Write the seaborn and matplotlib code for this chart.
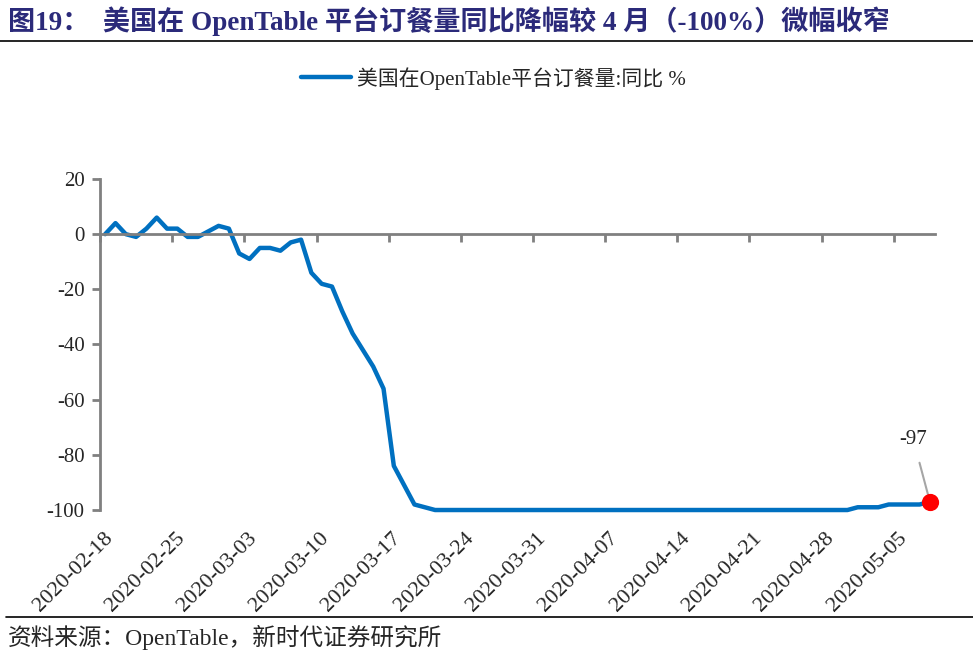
import pandas as pd
import matplotlib
matplotlib.use("Agg")
import matplotlib.pyplot as plt
import matplotlib.transforms as mtransforms
import seaborn as sns

# 美国在OpenTable平台订餐量:同比 %, daily from 2020-02-18 to 2020-05-08
start_date = "2020-02-18"
yoy = [
    0, 4, 0, -1, 2, 6, 2, 2, -1, -1,
    1, 3, 2, -7, -9, -5, -5, -6, -3, -2,
    -14, -18, -19, -28, -36, -42, -48, -56, -84, -91,
    -98, -99, -100, -100, -100, -100, -100, -100, -100, -100,
    -100, -100, -100, -100, -100, -100, -100, -100, -100, -100,
    -100, -100, -100, -100, -100, -100, -100, -100, -100, -100,
    -100, -100, -100, -100, -100, -100, -100, -100, -100, -100,
    -100, -100, -100, -99, -99, -99, -98, -98, -98, -98,
    -97,
]
tick_labels = ["2020-02-18", "2020-02-25", "2020-03-03", "2020-03-10",
               "2020-03-17", "2020-03-24", "2020-03-31", "2020-04-07",
               "2020-04-14", "2020-04-21", "2020-04-28", "2020-05-05"]
y_ticks = [20, 0, -20, -40, -60, -80, -100]

title = "图19：  美国在 OpenTable 平台订餐量同比降幅较 4 月（-100%）微幅收窄"
legend_label = "美国在OpenTable平台订餐量:同比 %"
source = "资料来源：OpenTable，新时代证券研究所"

df = pd.DataFrame({"date": pd.date_range(start_date, periods=len(yoy), freq="D"),
                   "value": yoy})

sns.set_theme(style="white")
serif = ["Liberation Serif", "Noto Sans CJK SC"]
plt.rcParams["font.family"] = serif

fig = plt.figure(figsize=(9.73, 6.58), dpi=100)
ax = fig.add_axes([0.1028, 0.2249, 0.8582, 0.5031])

blue = "#0070C0"
grey = "#808080"
sns.lineplot(data=df, x="date", y="value", ax=ax, color=blue, linewidth=3.2,
             label=legend_label, legend=False)
for ln in ax.get_lines():
    ln.set_clip_on(False)

# last point highlight
last = df.iloc[-1]
ax.scatter([last["date"]], [last["value"]], s=130, color="#FF0000", zorder=5,
           clip_on=False)
ax.annotate(f"{int(last['value'])}", xy=(last["date"], last["value"]),
            xytext=(-12, 45), textcoords="offset points", ha="center",
            va="center", fontsize=15, family=serif,
            arrowprops=dict(arrowstyle="-", color="#A6A6A6", lw=1.5,
                            shrinkA=8, shrinkB=0))

half = pd.Timedelta(hours=12)
ax.set_xlim(df["date"].iloc[0] - half, df["date"].iloc[-1] + half)
ax.set_ylim(-100, 20)
ax.set_yticks(y_ticks)
ax.set_yticklabels([str(v) for v in y_ticks], fontsize=15)

# x axis line at zero with tick marks between categories
tick_dates = pd.to_datetime(tick_labels)
ax.spines["bottom"].set_position(("data", 0))
ax.set_xticks(tick_dates - half)
ax.set_xticklabels([])
ax.tick_params(axis="x", bottom=True, direction="out", length=6, width=2,
               color=grey)
ax.tick_params(axis="y", left=True, direction="out", length=6, width=2,
               color=grey, pad=5)
for side in ["top", "right"]:
    ax.spines[side].set_visible(False)
for side in ["left", "bottom"]:
    ax.spines[side].set_color(grey)
    ax.spines[side].set_linewidth(2)
ax.set_xlabel("")
ax.set_ylabel("")
ax.grid(False)

# date labels along the bottom
sec = ax.secondary_xaxis(0)
sec.set_xticks(tick_dates)
sec.set_xticklabels(tick_labels, rotation=45, ha="right", rotation_mode="anchor",
                    fontsize=16)
sec.tick_params(axis="x", length=0, pad=8)
sec.spines["bottom"].set_visible(False)
shift = mtransforms.ScaledTranslation(-2 / 100, -8 / 100, fig.dpi_scale_trans)
for lab in sec.get_xticklabels():
    lab.set_transform(lab.get_transform() + shift)

leg = fig.legend(handles=ax.get_lines()[:1], labels=[legend_label],
                 loc="center", bbox_to_anchor=(0.507, 0.881), frameon=False,
                 fontsize=15, handlelength=2.4, handletextpad=0.3)

fig.text(0.008, 0.968, title, fontsize=19.5, fontweight="bold", color="#2B2A7A",
         va="center", ha="left", family=serif)
fig.add_artist(plt.Line2D([0, 1], [0.938, 0.938], color="black", lw=1.2,
                          transform=fig.transFigure))
fig.add_artist(plt.Line2D([0.006, 1], [0.062, 0.062], color="black", lw=1.2,
                          transform=fig.transFigure))
fig.text(0.008, 0.031, source, fontsize=17, va="center", ha="left", family=serif)

fig.savefig("out.png", dpi=100)
